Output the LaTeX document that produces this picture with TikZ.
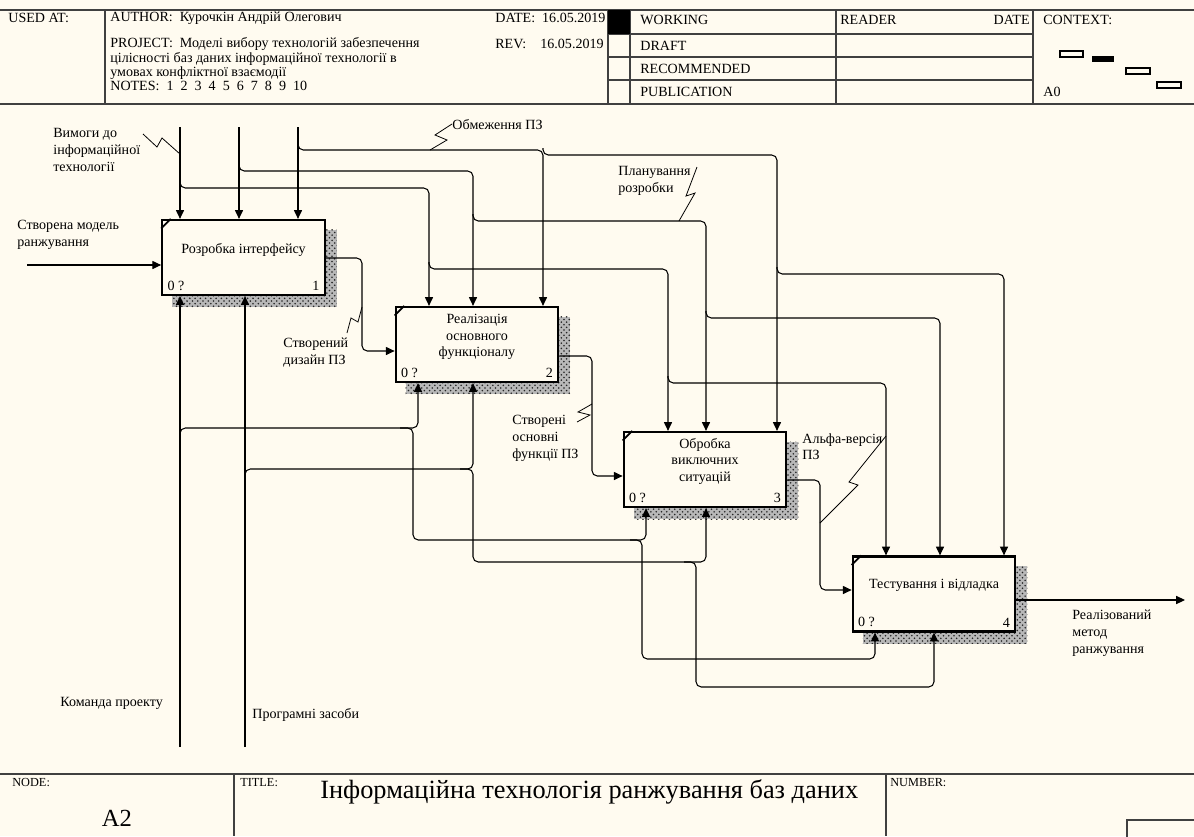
\documentclass[tikz,border=0pt]{standalone}
\usepackage{fontspec}
\setmainfont{Liberation Serif}
\usetikzlibrary{arrows.meta,patterns,backgrounds}
\definecolor{paper}{RGB}{255,251,240}
\tikzset{
	box/.style={draw, line width=1.3pt, fill=paper, minimum width=3.25cm, minimum height=1.5cm, inner sep=0pt},
	flow/.style={line width=0.6pt, rounded corners=3pt, -{Triangle[length=5pt,width=4.6pt]}},
	squig/.style={line width=0.45pt},
	lbl/.style={font=\fontsize{8}{9.6}\selectfont, inner sep=0pt, align=left},
	hdr/.style={font=\fontsize{8}{9}\selectfont, inner sep=0pt, anchor=west},
	tiny/.style={font=\fontsize{7}{8}\selectfont, inner sep=0pt, anchor=west},
	frame/.style={line width=0.7pt, draw=black!75},
	hatch/.style={fill=black!28, postaction={pattern=crosshatch dots, pattern color=black!85}},
}
\begin{document}
\begin{tikzpicture}[x=0.02cm, y=-0.02cm]
			%%%%% START %%%%%
			\useasboundingbox (0,0) rectangle (1194,836);
			
			% header
			\draw[frame] (0,10) -- (1194,10);
			\draw[frame] (0,104) -- (1194,104);
			\draw[frame] (105,10) -- (105,104);
			\draw[frame] (608,10) -- (608,104);
			\draw[frame] (630,10) -- (630,104);
			\draw[frame] (836,10) -- (836,104);
			\draw[frame] (1033,10) -- (1033,104);
			\draw[frame] (608,34) -- (1033,34);
			\draw[frame] (608,57) -- (1033,57);
			\draw[frame] (608,80) -- (1033,80);
			\fill[black] (608,10) rectangle (630,34);
			
			\node[hdr] (usedat) at (8,18) {USED AT:};
			\node[hdr] (author) at (110,18) {AUTHOR:\ \ Курочкін Андрій Олегович};
			\node[hdr] (project) at (110,44) {PROJECT:\ \ Моделі вибору технологій забезпечення};
			\node[hdr] (project2) at (110,59) {цілісності баз даних інформаційної технології в};
			\node[hdr] (project3) at (110,73) {умовах конфліктної взаємодії};
			\node[hdr] (notes) at (110,86) {NOTES:\ \ 1\ \ 2\ \ 3\ \ 4\ \ 5\ \ 6\ \ 7\ \ 8\ \ 9\ \ 10};
			\node[hdr] (date) at (495,18) {DATE:\ \ 16.05.2019};
			\node[hdr] (rev) at (495,44) {REV:\ \ \ \ 16.05.2019};
			\node[hdr] (working) at (640,20) {WORKING};
			\node[hdr] (draft) at (640,45.5) {DRAFT};
			\node[hdr] (recommended) at (640,68.5) {RECOMMENDED};
			\node[hdr] (publication) at (640,92) {PUBLICATION};
			\node[hdr] (reader) at (840,20) {READER};
			\node[hdr, anchor=east] (rdate) at (1030,20) {DATE};
			\node[hdr] (context) at (1043,20) {CONTEXT:};
			\node[hdr] (azero) at (1043,92) {A0};
			\draw[line width=0.6pt] (1060,51) rectangle (1083,57);
			\fill[black] (1092,56) rectangle (1114,62);
			\draw[line width=0.6pt] (1126,68) rectangle (1150,74);
			\draw[line width=0.6pt] (1157,82) rectangle (1181,88);
			
			% activity boxes
			\node[box] (b1) at (243.5,257.5) {};
			\node[box] (b2) at (477,344.5) {};
			\node[box] (b3) at (705,469.5) {};
			\node[box] (b4) at (934,594) {};
			
			\node[lbl, align=center] (t1) at ([yshift=4.3pt]b1.center) {Розробка інтерфейсу};
			\node[lbl, align=center] (t2) at ([yshift=4.3pt]b2.center) {Реалізація\\основного\\функціоналу};
			\node[lbl, align=center] (t3) at ([yshift=4.6pt]b3.center) {Обробка\\виключних\\ситуацій};
			\node[lbl, align=center] (t4) at ([yshift=4.8pt]b4.center) {Тестування і відладка};
			
			\node[lbl, anchor=south west] (q1) at ([shift={(3.5pt,3pt)}]b1.south west) {0 ?};
			\node[lbl, anchor=south west] (q2) at ([shift={(3.5pt,3pt)}]b2.south west) {0 ?};
			\node[lbl, anchor=south west] (q3) at ([shift={(3.5pt,3pt)}]b3.south west) {0 ?};
			\node[lbl, anchor=south west] (q4) at ([shift={(3.5pt,3pt)}]b4.south west) {0 ?};
			\node[lbl, anchor=south east] (k1) at ([shift={(-3.5pt,3pt)}]b1.south east) {1};
			\node[lbl, anchor=south east] (k2) at ([shift={(-3.5pt,3pt)}]b2.south east) {2};
			\node[lbl, anchor=south east] (k3) at ([shift={(-3.5pt,3pt)}]b3.south east) {3};
			\node[lbl, anchor=south east] (k4) at ([shift={(-3.5pt,3pt)}]b4.south east) {4};
			
			\foreach \b in {b1,b2,b3,b4}
				\draw[line width=1pt] ([yshift=-5.5pt]\b.north west) -- ([xshift=5.5pt]\b.north west);
			
			\begin{scope}[on background layer]
				\fill[paper] (0,0) rectangle (1194,836);
				\foreach \b in {b1,b2,b3,b4}
					\path[hatch] ([shift={(6.3pt,-6.3pt)}]\b.north west) rectangle ([shift={(6.3pt,-6.3pt)}]\b.south east);
			\end{scope}
			
			% sources and sinks
			\coordinate (reqs) at (180,127);
			\coordinate (plan) at (239,127);
			\coordinate (limits) at (298,127);
			\coordinate (team) at (180,747);
			\coordinate (tools) at (245,747);
			\coordinate (model) at (27,265);
			\coordinate (method) at (1185,600);
			
			% controls
			\draw[flow] (reqs) -- (reqs |- b1.north);
			\draw[flow] (180,180) -- (180,188) -- (429,188) -- (429,0 |- b2.north);
			\draw[flow] (429,262) -- (429,269) -- (668,269) -- (668,0 |- b3.north);
			\draw[flow] (668,376) -- (668,383) -- (886,383) -- (886,0 |- b4.north);
			
			\draw[flow] (plan) -- (plan |- b1.north);
			\draw[flow] (239,164) -- (239,171) -- (473,171) -- (473,0 |- b2.north);
			\draw[flow] (473,214) -- (473,221) -- (706,221) -- (706,0 |- b3.north);
			\draw[flow] (706,311) -- (706,318) -- (940,318) -- (940,0 |- b4.north);
			
			\draw[flow] (limits) -- (limits |- b1.north);
			\draw[flow] (298,143) -- (298,150) -- (543,150) -- (543,0 |- b2.north);
			\draw[flow] (543,148) -- (543,155) -- (777,155) -- (777,0 |- b3.north);
			\draw[flow] (777,267) -- (777,274) -- (1004,274) -- (1004,0 |- b4.north);
			
			% mechanisms
			\draw[flow] (team) -- (team |- b1.south);
			\draw[flow] (180,435) -- (180,428) -- (418,428) -- (418,0 |- b2.south);
			\draw[flow] (400,428) -- (413,428) -- (413,540) -- (646,540) -- (646,0 |- b3.south);
			\draw[flow] (630,540) -- (642,540) -- (642,659) -- (875,659) -- (875,0 |- b4.south);
			
			\draw[flow] (tools) -- (tools |- b1.south);
			\draw[flow] (245,476) -- (245,469) -- (473,469) -- (473,0 |- b2.south);
			\draw[flow] (460,469) -- (473,469) -- (473,562) -- (706,562) -- (706,0 |- b3.south);
			\draw[flow] (684,562) -- (696,562) -- (696,687) -- (934,687) -- (934,0 |- b4.south);
			
			% inputs and outputs
			\draw[flow] (model) -- (b1.west |- model);
			\draw[flow] (b1.east |- 0,258) -- (362,258) -- (362,351) -- (b2.west |- 0,351);
			\draw[flow] (b2.east |- 0,356) -- (592,356) -- (592,476) -- (b3.west |- 0,476);
			\draw[flow] (b3.east |- 0,480) -- (820,480) -- (820,590) -- (b4.west |- 0,590);
			\draw[flow] (b4.east |- method) -- (method);
			
			% arrow labels
			\node[lbl, anchor=north west] (lreqs) at (53,128) {Вимоги до\\інформаційної\\технології};
			\node[lbl, anchor=north west] (lmodel) at (17,220) {Створена модель\\ранжування};
			\node[lbl, anchor=west] (llimits) at (452,125) {Обмеження ПЗ};
			\node[lbl, anchor=north west] (lplan) at (618,166) {Планування\\розробки};
			\node[lbl, anchor=north west] (ldesign) at (283,338) {Створений\\дизайн ПЗ};
			\node[lbl, anchor=north west] (lfunc) at (512,415) {Створені\\основні\\функції ПЗ};
			\node[lbl, anchor=north west] (lalpha) at (802,433) {Альфа-версія\\ПЗ};
			\node[lbl, anchor=north west] (lmethod) at (1072,610) {Реалізований\\метод\\ранжування};
			\node[lbl, anchor=west] (lteam) at (60,703) {Команда проекту};
			\node[lbl, anchor=west] (ltools) at (252,715) {Програмні засоби};
			
			\draw[squig] (143,134) -- (157,147) -- (162,138) -- (180,154);
			\draw[squig] (452,124) -- (435,135) -- (447,140) -- (430,150);
			\draw[squig] (697,167) -- (686,196) -- (695,193) -- (679,221);
			\draw[squig] (347,333) -- (351,318) -- (358,322) -- (362,307);
			\draw[squig] (577,422) -- (590,415) -- (578,412) -- (592,404);
			\draw[squig] (886,436) -- (849,482) -- (858,485) -- (820,523);
			
			% footer
			\draw[frame] (0,774) -- (1194,774);
			\draw[frame] (234,774) -- (234,836);
			\draw[frame] (886,774) -- (886,836);
			\draw[frame] (1127,820) rectangle (1196,840);
			\node[tiny] (nodelbl) at (12,783) {NODE:};
			\node[font=\fontsize{14}{16}\selectfont, inner sep=0pt] (nodeno) at (117,818) {A2};
			\node[tiny] (titlelbl) at (240,783) {TITLE:};
			\node[font=\fontsize{15}{17}\selectfont, inner sep=0pt, anchor=west] (title) at (320,792) {Інформаційна технологія ранжування баз даних};
			\node[tiny] (numberlbl) at (890,783) {NUMBER:};
			%%%%% END %%%%%
\end{tikzpicture}
\end{document}
